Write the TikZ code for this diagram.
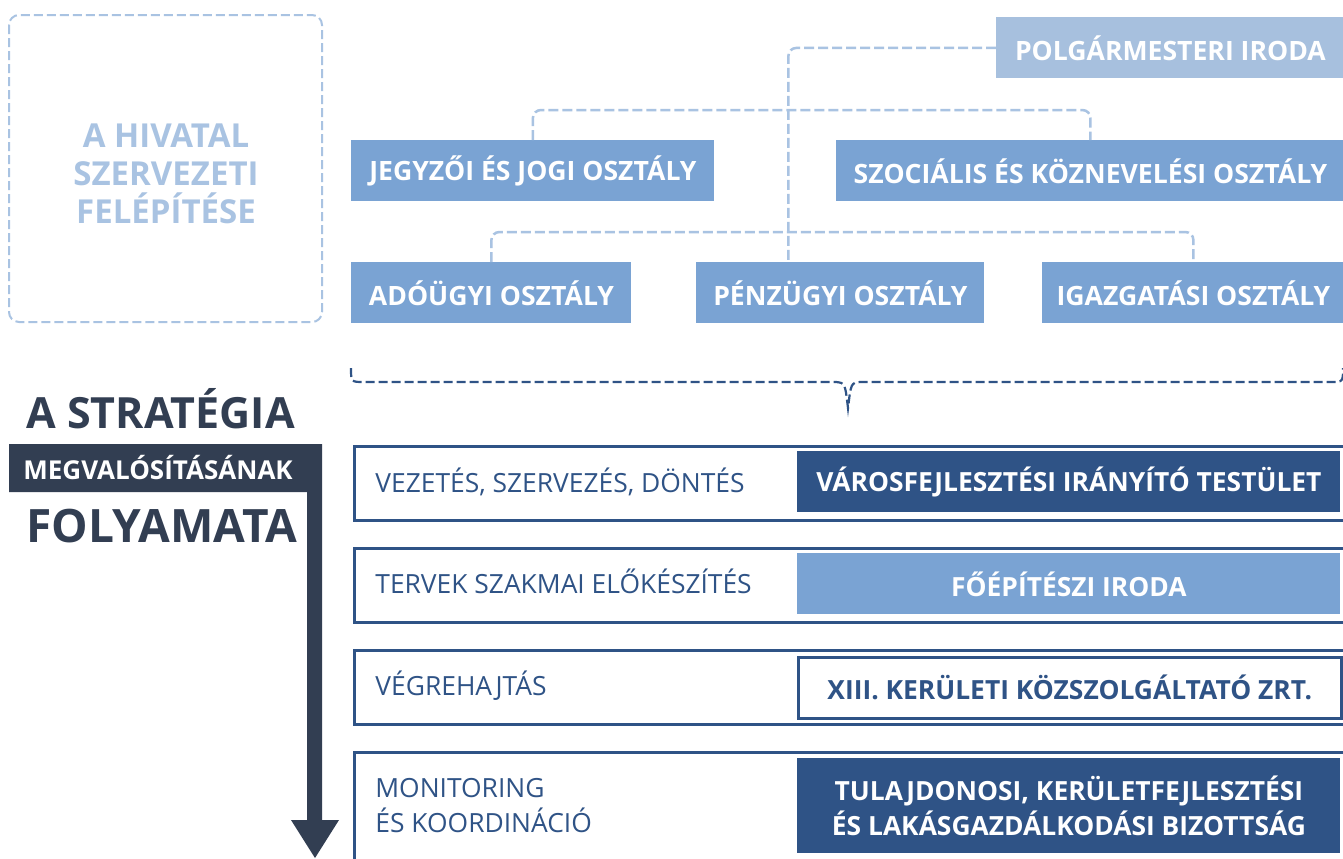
\documentclass[tikz,border=0pt]{standalone}
\usepackage{fontspec}
\setmainfont{Open Sans}
\usetikzlibrary{arrows.meta, positioning, calc}
\definecolor{palec}{RGB}{169,195,226}
\definecolor{headc}{RGB}{167,192,222}
\definecolor{midc}{RGB}{122,163,211}
\definecolor{darkc}{RGB}{47,83,134}
\definecolor{slatec}{RGB}{50,62,82}
\tikzset{
  unit/.style={rectangle, anchor=north west, inner sep=0pt, fill=midc, text=white,
    font=\bfseries\fontsize{13.3}{15}\selectfont, minimum height=30.5pt},
  headunit/.style={unit, fill=headc},
  link/.style={draw=palec, line width=1.25pt, dash pattern=on 5pt off 2pt, rounded corners=4pt},
  frame/.style={draw=palec, line width=1pt, dash pattern=on 4.5pt off 2pt, rounded corners=5pt},
  frametxt/.style={text=palec, align=center, font=\bfseries\fontsize{16.5}{19}\selectfont},
  brace/.style={draw=darkc, line width=1.1pt, dash pattern=on 4.5pt off 2pt},
  stage/.style={rectangle, anchor=north west, draw=darkc, line width=1.5pt,
    minimum width=500pt, minimum height=37pt, inner sep=0pt},
  stagetxt/.style={text=darkc, font=\fontsize{13.2}{17.5}\selectfont, align=left, inner sep=0pt},
  actor/.style={rectangle, anchor=north west, inner sep=0pt, minimum width=271.5pt,
    minimum height=30.5pt, align=center, font=\bfseries\fontsize{13.2}{17.5}\selectfont},
  title/.style={anchor=base west, inner sep=0pt, text=slatec, font=\bfseries\fontsize{21.5}{24}\selectfont},
}
\begin{document}
\begin{tikzpicture}[x=0.5pt, y=-0.5pt]
  \clip (0,0) rectangle (1343,858);
  \fill[white] (0,0) rectangle (1343,858);

  % office structure
  \draw[frame] (9,15) rectangle (322,322);
  \node[frametxt] (hivatal) at (166,174) {A HIVATAL\\SZERVEZETI\\FELÉPÍTÉSE};
  \node[headunit, minimum width=174pt] (polg) at (996,17) {POLGÁRMESTERI IRODA};
  \node[unit, minimum width=181.5pt] (jegyzo) at (351,140) {JEGYZŐI ÉS JOGI OSZTÁLY};
  \node[unit, minimum width=254pt] (szoc) at (836,140) {SZOCIÁLIS ÉS KÖZNEVELÉSI OSZTÁLY};
  \node[unit, minimum width=140pt] (ado) at (351,262) {ADÓÜGYI OSZTÁLY};
  \node[unit, minimum width=144pt] (penz) at (696,262) {PÉNZÜGYI OSZTÁLY};
  \node[unit, minimum width=151pt] (igaz) at (1042,262) {IGAZGATÁSI OSZTÁLY};

  \draw[link] (polg.west) -| ([xshift=-26pt]penz.north);
  \draw[link] (jegyzo.north) -- ++(0,-30) -| (szoc.north);
  \draw[link] (ado.north) -- ++(0,-30) -| (igaz.north);

  % brace under the offices
  \draw[brace] (351,368) .. controls (351,382) .. (364,382) -- (836,382)
    .. controls (845,383) .. (848,408) .. controls (851,383) .. (860,382) -- (1330,382)
    .. controls (1343,382) .. (1343,368);

  % process arrow
  \fill[slatec] (9,444) -- (322,444) -- (322,820) -- (339,820) -- (315,858)
    -- (291,820) -- (307,820) -- (307,492) -- (9,492) -- cycle;
  \node[title] (strat) at (26,428) {A STRATÉGIA};
  \node[anchor=base west, inner sep=0pt, text=white, font=\bfseries\fontsize{13}{14}\selectfont]
    (megval) at (23,479) {MEGVALÓSÍTÁSÁNAK};
  \node[title, font=\bfseries\fontsize{23}{26}\selectfont] (folyam) at (26,542) {FOLYAMATA};

  % stages
  \node[stage] (s1) at (353,445) {};
  \node[stage] (s2) at (353,547) {};
  \node[stage] (s3) at (353,649) {};
  \node[stage, minimum height=60pt] (s4) at (353,751) {};

  \node[stagetxt, anchor=base west] (t1) at (375,492) {VEZETÉS, SZERVEZÉS, DÖNTÉS};
  \node[stagetxt, anchor=base west] (t2) at (375,593) {TERVEK SZAKMAI ELŐKÉSZÍTÉS};
  \node[stagetxt, anchor=base west] (t3) at (375,695) {VÉGREHAJTÁS};
  \node[stagetxt, anchor=west] (t4) at (375,806) {MONITORING\\ÉS KOORDINÁCIÓ};

  \node[actor, fill=darkc, text=white] (a1) at (797,451) {VÁROSFEJLESZTÉSI IRÁNYÍTÓ TESTÜLET};
  \node[actor, fill=midc, text=white] (a2) at (797,553) {FŐÉPÍTÉSZI IRODA};
  \node[actor, fill=white, draw=darkc, line width=1.25pt, text=darkc] (a3) at (797,656)
    {XIII. KERÜLETI KÖZSZOLGÁLTATÓ ZRT.};
  \node[actor, fill=darkc, text=white, minimum height=47.5pt] (a4) at (797,758)
    {TULAJDONOSI, KERÜLETFEJLESZTÉSI\\ÉS LAKÁSGAZDÁLKODÁSI BIZOTTSÁG};
\end{tikzpicture}
\end{document}
